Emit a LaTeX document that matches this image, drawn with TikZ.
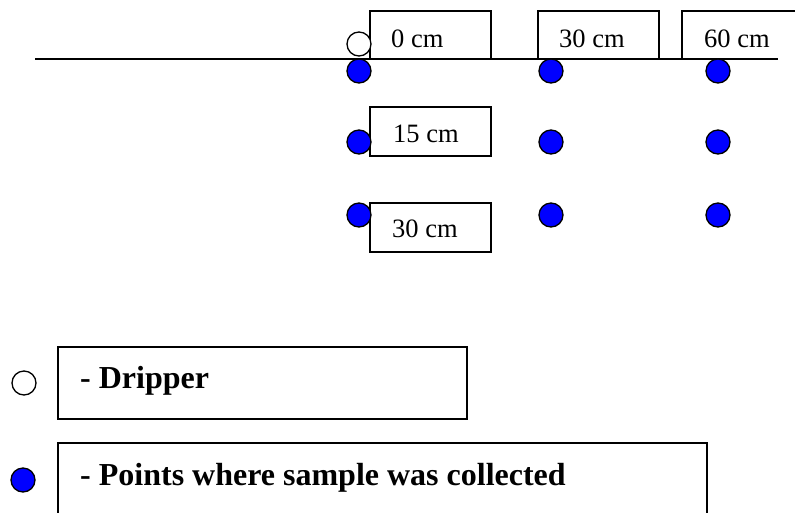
\documentclass[tikz,border=0pt]{standalone}
\usepackage{fontspec}
\setmainfont{Liberation Serif}
\begin{document}
\begin{tikzpicture}[x=1pt,y=-1pt,
  box/.style={draw=black, line width=1.3pt},
  dot/.style={circle, draw=black, line width=1.3pt, fill=blue, minimum size=24pt, inner sep=0pt},
  drip/.style={circle, draw=black, line width=1.3pt, fill=white, minimum size=24pt, inner sep=0pt},
  lab/.style={anchor=base west, inner sep=0pt, font=\fontsize{26.5}{30}\selectfont},
  leg/.style={anchor=base west, inner sep=0pt, font=\fontsize{32}{36}\selectfont\bfseries}]
\useasboundingbox (0,0) rectangle (795,512);
% ground line
\coordinate (gl) at (35,59);
\coordinate (gr) at (778,59);
\draw[line width=1.2pt] (gl) -- (gr);
% label boxes
\draw[box] (370,11) rectangle (491,59);
\draw[box] (538,11) rectangle (659,59);
\draw[box] (795,11) -- (682,11) -- (682,59) -- (778,59);
\draw[box] (370,107) rectangle (491,156);
\draw[box] (370,203) rectangle (491,252);
\node[lab] (t0) at (391,47) {0 cm};
\node[lab] (t30) at (559,47) {30 cm};
\node[lab] (t60) at (704,47) {60 cm};
\node[lab] (t15) at (393,142) {15 cm};
\node[lab] (t30d) at (392,237) {30 cm};
% dripper
\node[drip] (d) at (359,44) {};
% sample points
\foreach \c/\x in {a/359,b/551,c/718}{
  \node[dot] (\c1) at (\x,71) {};
  \node[dot] (\c2) at (\x,142) {};
  \node[dot] (\c3) at (\x,215) {};
}
% legend
\draw[box] (58,347) rectangle (467,419);
\draw[box] (58,520) -- (58,443) -- (707,443) -- (707,520);
\node[drip] (ld) at (24,383) {};
\node[dot] (lp) at (23,480) {};
\node[leg] (ltd) at (80,388) {- Dripper};
\node[leg] (ltp) at (80,485) {- Points where sample was collected};
\end{tikzpicture}
\end{document}
